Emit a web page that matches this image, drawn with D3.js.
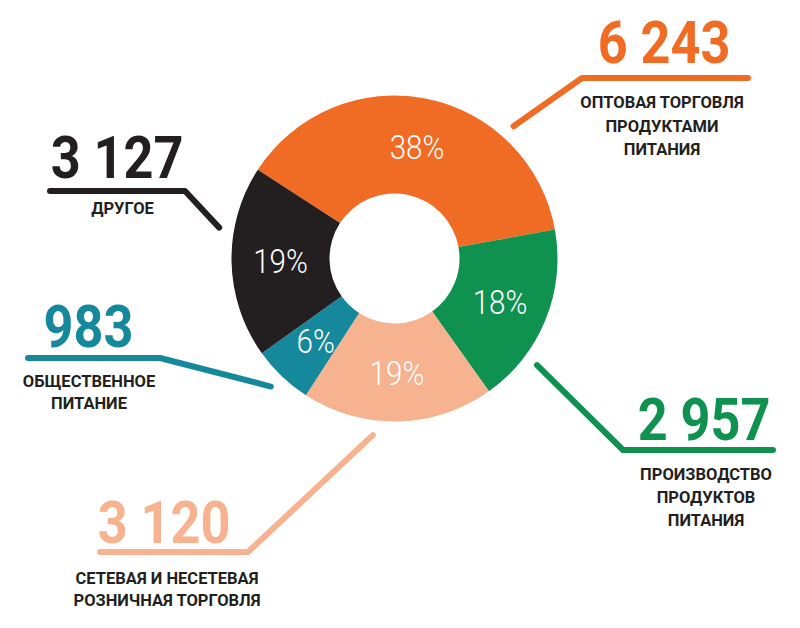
<!DOCTYPE html>
<html><head><meta charset="utf-8">
<script src="https://cdn.jsdelivr.net/npm/d3@7"></script>
<style>
html,body{margin:0;padding:0;background:#fff;}
svg{display:block;}
</style>
</head><body>
<svg id="chart" width="800" height="628"></svg>
<script>
// ---- data ----
const categories = [
  "Оптовая торговля продуктами питания",
  "Производство продуктов питания",
  "Сетевая и несетевая розничная торговля",
  "Общественное питание",
  "Другое"
];
const values = [6243, 2957, 3120, 983, 3127];
const labelLines = [
  ["ОПТОВАЯ ТОРГОВЛЯ", "ПРОДУКТАМИ", "ПИТАНИЯ"],
  ["ПРОИЗВОДСТВО", "ПРОДУКТОВ", "ПИТАНИЯ"],
  ["СЕТЕВАЯ И НЕСЕТЕВАЯ", "РОЗНИЧНАЯ ТОРГОВЛЯ"],
  ["ОБЩЕСТВЕННОЕ", "ПИТАНИЕ"],
  ["ДРУГОЕ"]
];
const colors = ["#F06B24", "#0F9150", "#F7B28F", "#15899B", "#231F20"];

// ---- layout (annotation placement) ----
const layout = [
  {angle: 42,    elbow: [582, 78],  endX: 748, numX: 664,  numY: 63,  labX: 662,   labY: 108, lh: 23.5},
  {angle: 126.8, elbow: [623, 450], endX: 773, numX: 704,  numY: 440, labX: 706,   labY: 480, lh: 23},
  {angle: 187,   elbow: [248, 552], endX: 100, numX: 164,  numY: 543, labX: 167,   labY: 584, lh: 21.5},
  {angle: 224,   elbow: [160, 358], endX: 28,  numX: 88.5, numY: 347, labX: 89,    labY: 387, lh: 21.5},
  {angle: 280,   elbow: [185, 191], endX: 50,  numX: 117,  numY: 178, labX: 122.5, labY: 214, lh: 22}
];

const cx = 394.5, cy = 258.5, outerR = 163, innerR = 65, pctR = 114, leadR = 178;
const condense = 0.87;
const textDark = "#231F20";

const svg = d3.select("#chart");
const g = svg.append("g").attr("transform", `translate(${cx},${cy})`);

const total = d3.sum(values);
const data = values.map((v, i) => ({value: v, i}));
const pie = d3.pie().value(d => d.value).sort(null)
  .startAngle(-57 * Math.PI / 180).endAngle(303 * Math.PI / 180);
const arcs = pie(data);
const arc = d3.arc().innerRadius(innerR).outerRadius(outerR);
const pctArc = d3.arc().innerRadius(pctR).outerRadius(pctR);

g.selectAll("path.slice").data(arcs).join("path")
  .attr("class", "slice")
  .attr("d", arc)
  .attr("fill", d => colors[d.data.i]);

const pctFmt = d3.format(".0%");
g.selectAll("g.pct").data(arcs).join("g")
  .attr("class", "pct")
  .attr("transform", d => { const c = pctArc.centroid(d); return `translate(${c[0]},${c[1]}) scale(${condense},1)`; })
  .append("text")
  .attr("text-anchor", "middle")
  .attr("dy", "0.36em")
  .attr("font-family", "Roboto, sans-serif")
  .attr("font-weight", 300)
  .attr("font-size", 34)
  .attr("fill", "#fff")
  .text(d => pctFmt(d.data.value / total));

// annotations
const loc = d3.formatLocale({decimal: ",", thousands: " ", grouping: [3], currency: ["", ""]});
const numFmt = loc.format(",d");
const ann = svg.append("g");
layout.forEach((L, i) => {
  const p = d3.pointRadial(L.angle * Math.PI / 180, leadR);
  const start = [cx + p[0], cy + p[1]];
  ann.append("path")
    .attr("d", d3.line()([start, L.elbow, [L.endX, L.elbow[1]]]))
    .attr("fill", "none")
    .attr("stroke", colors[i])
    .attr("stroke-width", 6)
    .attr("stroke-linecap", "round")
    .attr("stroke-linejoin", "round");
  ann.append("g")
    .attr("transform", `translate(${L.numX},${L.numY}) scale(${condense},1)`)
    .append("text")
    .attr("text-anchor", "middle")
    .attr("font-family", "Roboto, sans-serif")
    .attr("font-weight", 700)
    .attr("font-size", 60)
    .attr("fill", colors[i])
    .text(numFmt(values[i]));
  const lg = ann.append("g")
    .attr("transform", `translate(${L.labX},${L.labY})`);
  labelLines[i].forEach((line, k) => {
    lg.append("text")
      .attr("y", k * L.lh)
      .attr("text-anchor", "middle")
      .attr("font-family", "Roboto, sans-serif")
      .attr("font-weight", 700)
      .attr("font-size", 16.5)
      .attr("fill", textDark)
      .text(line);
  });
});
</script>
</body></html>
